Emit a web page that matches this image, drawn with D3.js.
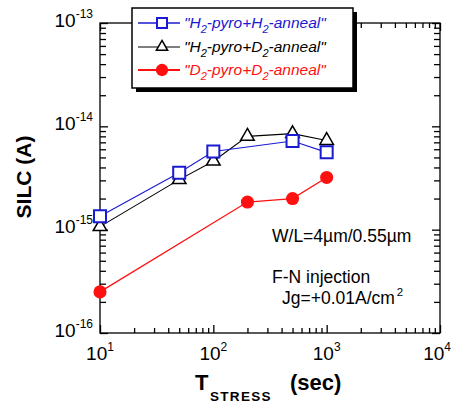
<!DOCTYPE html>
<html><head><meta charset="utf-8">
<script src="https://cdn.jsdelivr.net/npm/d3@7"></script>
<style>
body{margin:0;background:#fff}
text{font-family:"Liberation Sans",Arial,Helvetica,sans-serif}
</style>
</head><body>
<svg id="c" width="452" height="403"></svg>
<script>
// ---- data ----
const xH2H2 = [10, 50, 100, 500, 1000];
const yH2H2 = [1.35e-15, 3.55e-15, 5.7e-15, 7.2e-15, 5.6e-15];
const xH2D2 = [10, 50, 100, 200, 500, 1000];
const yH2D2 = [1.07e-15, 3.05e-15, 4.6e-15, 8.0e-15, 8.5e-15, 7.3e-15];
const xD2D2 = [10, 200, 500, 1000];
const yD2D2 = [2.5e-16, 1.85e-15, 2.0e-15, 3.2e-15];
const xTickValues = [10, 100, 1000, 10000];
const yTickValues = [1e-16, 1e-15, 1e-14, 1e-13];
const seriesNames = [["\"H", "2", "-pyro+H", "2", "-anneal\""],
                     ["\"H", "2", "-pyro+D", "2", "-anneal\""],
                     ["\"D", "2", "-pyro+D", "2", "-anneal\""]];
const annotations = ["W/L=4\u00b5m/0.55\u00b5m", "F-N injection"];

// ---- layout ----
const L = 100, R = 440, T = 23, B = 333, W = 452;
const svg = d3.select("#c");
svg.append("rect").attr("width", 452).attr("height", 403).attr("fill", "#fff");

const x = d3.scaleLog().domain([10, 1e4]).range([L, R]);
const y = d3.scaleLog().domain([1e-16, 1e-13]).range([B, T]);

function minors(domain) {
  const out = [];
  const e0 = Math.round(Math.log10(domain[0])), e1 = Math.round(Math.log10(domain[1]));
  for (let e = e0; e < e1; e++) for (let k = 2; k <= 9; k++) out.push(k * Math.pow(10, e));
  return out;
}
const xMinor = minors(x.domain()), yMinor = minors(y.domain());

function addAxis(gen, tr, vals, size) {
  const g = svg.append("g").attr("transform", tr)
    .call(gen.tickValues(vals).tickSize(size).tickFormat(""));
  g.select(".domain").remove();
  g.selectAll(".tick line").attr("stroke", "#000").attr("stroke-width", 1.3);
  return g;
}
// inward ticks on all four sides
addAxis(d3.axisTop(x), `translate(0,${B})`, xMinor, 5);
addAxis(d3.axisTop(x), `translate(0,${B})`, xTickValues, 8);
addAxis(d3.axisBottom(x), `translate(0,${T})`, xMinor, 5);
addAxis(d3.axisBottom(x), `translate(0,${T})`, xTickValues, 8);
addAxis(d3.axisRight(y), `translate(${L},0)`, yMinor, 6);
addAxis(d3.axisRight(y), `translate(${L},0)`, yTickValues, 8);
addAxis(d3.axisLeft(y), `translate(${R},0)`, yMinor, 6);
addAxis(d3.axisLeft(y), `translate(${R},0)`, yTickValues, 8);

// frame
svg.append("rect").attr("x", L).attr("y", T).attr("width", R - L).attr("height", B - T)
  .attr("fill", "none").attr("stroke", "#000").attr("stroke-width", 1.3);

// tick labels
const yl = svg.append("g").selectAll("text").data(yTickValues).join("text")
  .attr("x", L - 7).attr("y", d => y(d) + 3.5).attr("text-anchor", "end")
  .attr("font-size", 19).attr("fill", "#000");
yl.append("tspan").text("10");
yl.append("tspan").attr("font-size", 12).attr("dy", -9).text(d => Math.round(Math.log10(d)));

const xl = svg.append("g").selectAll("text").data(xTickValues).join("text")
  .attr("x", d => x(d) + 14 > W ? W - 1 : x(d)).attr("y", 360)
  .attr("text-anchor", d => x(d) + 14 > W ? "end" : "middle")
  .attr("font-size", 19).attr("fill", "#000");
xl.append("tspan").text("10");
xl.append("tspan").attr("font-size", 12).attr("dy", -9).text(d => Math.round(Math.log10(d)));

// axis titles
svg.append("text").attr("transform", "translate(31,177) rotate(-90)")
  .attr("text-anchor", "middle").attr("font-size", 21).attr("font-weight", "bold")
  .text("SILC (A)");
svg.append("text").attr("x", 195).attr("y", 390).attr("font-size", 22).attr("font-weight", "bold").text("T");
svg.append("text").attr("x", 210).attr("y", 401).attr("font-size", 13.5).attr("font-weight", "bold")
  .attr("letter-spacing", 1.3).text("STRESS");
svg.append("text").attr("x", 290).attr("y", 390).attr("font-size", 22).attr("font-weight", "bold").text("(sec)");

// series
const blue = "#1a1ad2", red = "#ff1010", black = "#000";
const line = d3.line().x(d => x(d[0])).y(d => y(d[1]));
const sH2H2 = xH2H2.map((v, i) => [v, yH2H2[i]]);
const sH2D2 = xH2D2.map((v, i) => [v, yH2D2[i]]);
const sD2D2 = xD2D2.map((v, i) => [v, yD2D2[i]]);

svg.append("path").datum(sD2D2).attr("d", line).attr("fill", "none").attr("stroke", red).attr("stroke-width", 1.3);
svg.append("path").datum(sH2D2).attr("d", line).attr("fill", "none").attr("stroke", black).attr("stroke-width", 1.1);
svg.append("path").datum(sH2H2).attr("d", line).attr("fill", "none").attr("stroke", blue).attr("stroke-width", 1.1);

svg.append("g").selectAll("path").data(sD2D2).join("path")
  .attr("transform", d => `translate(${x(d[0])},${y(d[1])})`)
  .attr("d", d3.symbol(d3.symbolCircle, 135)).attr("fill", red);
svg.append("g").selectAll("path").data(sH2D2).join("path")
  .attr("transform", d => `translate(${x(d[0])},${y(d[1])})`)
  .attr("d", d3.symbol(d3.symbolTriangle, 80)).attr("fill", "#fff").attr("stroke", black).attr("stroke-width", 1.5);
svg.append("g").selectAll("path").data(sH2H2).join("path")
  .attr("transform", d => `translate(${x(d[0])},${y(d[1])})`)
  .attr("d", d3.symbol(d3.symbolSquare, 144)).attr("fill", "#fff").attr("stroke", blue).attr("stroke-width", 2);

// annotations
svg.append("text").attr("x", 272).attr("y", 242).attr("font-size", 17.5).text(annotations[0]);
svg.append("text").attr("x", 272).attr("y", 283).attr("font-size", 17.5).text(annotations[1]);
const jg = svg.append("text").attr("x", 282).attr("y", 304).attr("font-size", 17.5);
jg.append("tspan").text("Jg=+0.01A/cm");
jg.append("tspan").attr("font-size", 11.5).attr("dy", -8).attr("dx", 2).text("2");

// legend
const lg = svg.append("g");
lg.append("rect").attr("x", 136).attr("y", 12).attr("width", 221).attr("height", 80).attr("fill", "#000");
lg.append("rect").attr("x", 132).attr("y", 8).attr("width", 221).attr("height", 80)
  .attr("fill", "#fff").attr("stroke", "#000").attr("stroke-width", 1.5);
const legItems = [
  {c: blue, sym: d3.symbolSquare, size: 100, fill: "#fff", sw: 2, lw: 1.5, y: 23},
  {c: black, sym: d3.symbolTriangle, size: 55, fill: "#fff", sw: 1.5, lw: 1.1, y: 47},
  {c: red, sym: d3.symbolCircle, size: 120, fill: red, sw: 0, lw: 2, y: 70}
];
legItems.forEach((it, i) => {
  lg.append("line").attr("x1", 138).attr("x2", 180).attr("y1", it.y).attr("y2", it.y)
    .attr("stroke", it.c).attr("stroke-width", it.lw);
  lg.append("path").attr("transform", `translate(162,${it.y})`)
    .attr("d", d3.symbol(it.sym, it.size)).attr("fill", it.fill)
    .attr("stroke", it.sw ? it.c : "none").attr("stroke-width", it.sw);
  const t = lg.append("text").attr("x", 184).attr("y", it.y + 4.5).attr("font-size", 15.5)
    .attr("font-style", "italic").attr("fill", it.c);
  const parts = seriesNames[i];
  parts.forEach((p, j) => {
    const sub = j % 2 === 1;
    t.append("tspan").attr("font-size", sub ? 11 : 15.5)
      .attr("dy", sub ? 5 : (j > 0 ? -5 : 0)).text(p);
  });
});
</script>
</body></html>
